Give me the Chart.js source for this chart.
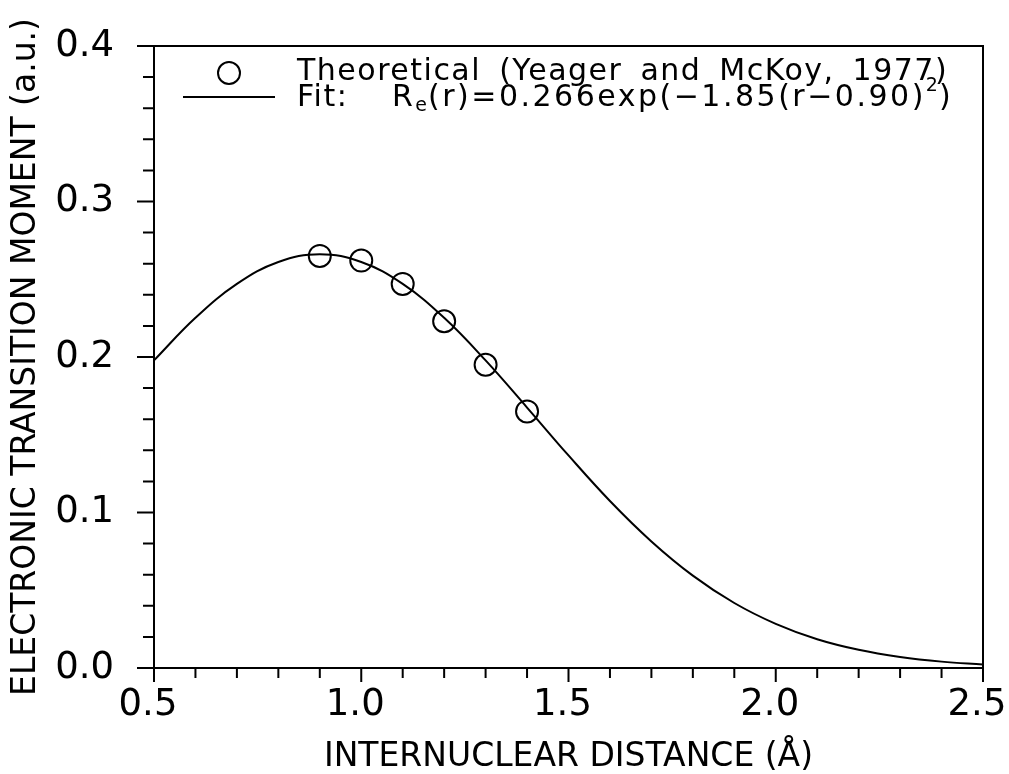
<!DOCTYPE html>
<html>
<head>
<meta charset="utf-8">
<script src="https://cdn.jsdelivr.net/npm/chart.js@4.4.0/dist/chart.umd.min.js"></script>
<style>
  html, body { margin: 0; padding: 0; background: #fff; }
  #wrap { width: 1009px; height: 774px; }
</style>
</head>
<body>
<div id="wrap"><canvas id="momentChart" width="1009" height="774"></canvas></div>
<script>
// fit curve, every 0.1 Å
const fitR = [0.5, 0.6, 0.7, 0.8, 0.9, 1.0, 1.1, 1.2, 1.3, 1.4, 1.5,
              1.6, 1.7, 1.8, 1.9, 2.0, 2.1, 2.2, 2.3, 2.4, 2.5];
const fitMoment = [0.1978, 0.2252, 0.2470, 0.2611, 0.2660, 0.2611, 0.2470, 0.2252, 0.1978, 0.1675, 0.1367,
                   0.1074, 0.0814, 0.0594, 0.0418, 0.0284, 0.0185, 0.0117, 0.0071, 0.0041, 0.0023];

// theoretical points (circles)
const theoR = [0.9, 1.0, 1.1, 1.2, 1.3, 1.4];
const theoMoment = [0.265, 0.262, 0.247, 0.223, 0.195, 0.165];

const theoLabel = "Theoretical (Yeager and McKoy, 1977)";
const fitLabel = "Fit:";
const xTitle = "INTERNUCLEAR DISTANCE (Å)";
const yTitle = "ELECTRONIC TRANSITION MOMENT (a.u.)";

const FONT = '"DejaVu Sans", sans-serif';

function isMult(v, step) {
  const q = v / step;
  return Math.abs(q - Math.round(q)) < 1e-6;
}

// frame + outward tick marks (major longer than minor)
const axisTicks = {
  id: "axisTicks",
  afterDraw(chart) {
    const { ctx, chartArea: a, scales: { x, y } } = chart;
    ctx.save();
    ctx.strokeStyle = "#000";
    ctx.lineWidth = 2;
    ctx.strokeRect(a.left, a.top, a.right - a.left, a.bottom - a.top);
    ctx.beginPath();
    y.ticks.forEach(t => {
      const py = y.getPixelForValue(t.value);
      const len = isMult(t.value, 0.1) ? 17 : 11;
      ctx.moveTo(a.left - len, py);
      ctx.lineTo(a.left, py);
    });
    x.ticks.forEach(t => {
      const px = x.getPixelForValue(t.value);
      const len = isMult(t.value, 0.5) ? 14 : 10;
      ctx.moveTo(px, a.bottom);
      ctx.lineTo(px, a.bottom + len);
    });
    ctx.stroke();
    ctx.restore();
  }
};

// legend sitting inside the plot, with sub/superscript in the formula
const insetLegend = {
  id: "insetLegend",
  afterDatasetsDraw(chart) {
    const { ctx, chartArea: a } = chart;
    ctx.save();
    ctx.strokeStyle = "#000";
    ctx.fillStyle = "#000";
    ctx.lineWidth = 2;

    ctx.beginPath();
    ctx.arc(a.left + 75, a.top + 27, 11, 0, Math.PI * 2);
    ctx.stroke();
    ctx.beginPath();
    ctx.moveTo(a.left + 29, a.top + 51);
    ctx.lineTo(a.left + 121, a.top + 51);
    ctx.stroke();

    ctx.textBaseline = "middle";
    ctx.textAlign = "left";
    ctx.font = "30px " + FONT;
    ctx.letterSpacing = "1.5px";
    ctx.wordSpacing = "7px";
    ctx.fillText(theoLabel, a.left + 143, a.top + 26);
    ctx.fillText(fitLabel, a.left + 143, a.top + 52);

    // R_e(r)=0.266exp(-1.85(r-0.90)^2)
    const parts = [
      { t: "R", size: 30, dy: 0 },
      { t: "e", size: 19, dy: 8 },
      { t: "(r)=0.266exp(\u22121.85(r\u22120.90)", size: 30, dy: 0 },
      { t: "2", size: 19, dy: -12 },
      { t: ")", size: 30, dy: 0 }
    ];
    let px = a.left + 238;
    parts.forEach(p => {
      ctx.font = p.size + "px " + FONT;
      ctx.letterSpacing = p.size > 20 ? "2.5px" : "1px";
      ctx.fillText(p.t, px, a.top + 52 + p.dy);
      px += ctx.measureText(p.t).width;
    });
    ctx.restore();
  }
};

Chart.defaults.color = "#000";
Chart.defaults.font.family = FONT;

new Chart(document.getElementById("momentChart").getContext("2d"), {
  type: "scatter",
  data: {
    datasets: [
      {
        label: "Fit",
        data: fitR.map((r, i) => ({ x: r, y: fitMoment[i] })),
        showLine: true,
        borderColor: "#000",
        borderWidth: 2,
        pointRadius: 0,
        tension: 0.4,
        fill: false
      },
      {
        label: "Theoretical",
        data: theoR.map((r, i) => ({ x: r, y: theoMoment[i] })),
        pointStyle: "circle",
        pointRadius: 11,
        pointBorderWidth: 2,
        borderColor: "#000",
        backgroundColor: "rgba(0,0,0,0)"
      }
    ]
  },
  options: {
    responsive: false,
    animation: false,
    events: [],
    layout: { padding: { top: 46, right: 26, left: 0, bottom: 0 } },
    plugins: {
      legend: { display: false },
      tooltip: { enabled: false }
    },
    scales: {
      x: {
        type: "linear",
        min: 0.5,
        max: 2.5,
        grid: { display: false, drawTicks: false },
        border: { display: false },
        ticks: {
          stepSize: 0.1,
          autoSkip: false,
          maxRotation: 0,
          padding: 15,
          labelOffset: -6,
          font: { size: 37 },
          callback: v => (isMult(v, 0.5) ? v.toFixed(1) : "")
        },
        title: {
          display: true,
          text: xTitle,
          font: { size: 33, lineHeight: 1 },
          padding: { top: 0, bottom: 0 }
        },
        afterFit: scale => {
          scale.height = 106;
          scale.paddingLeft = 0;
          scale.paddingRight = 0;
        }
      },
      y: {
        min: 0,
        max: 0.4,
        grid: { display: false, drawTicks: false },
        border: { display: false },
        ticks: {
          stepSize: 0.02,
          autoSkip: false,
          padding: 40,
          font: { size: 37 },
          callback: v => (isMult(v, 0.1) ? v.toFixed(1) : "")
        },
        title: {
          display: true,
          text: yTitle,
          font: { size: 33 },
          padding: { top: 7, bottom: 0 }
        },
        afterFit: scale => {
          scale.width = 154;
          scale.paddingTop = 0;
          scale.paddingBottom = 0;
        }
      }
    }
  },
  plugins: [axisTicks, insetLegend]
});
</script>
</body>
</html>
